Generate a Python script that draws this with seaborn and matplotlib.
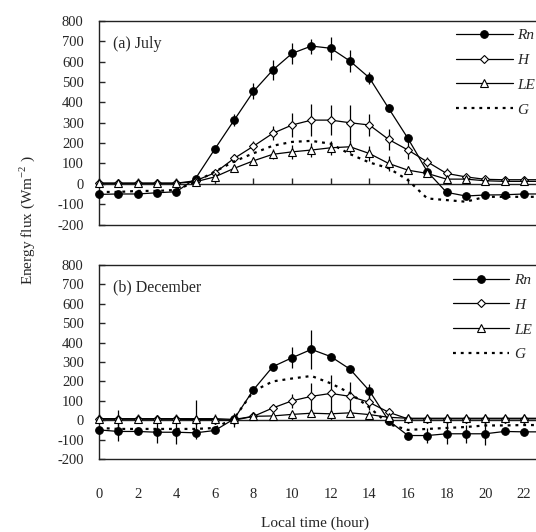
import numpy as np
import pandas as pd
import matplotlib
matplotlib.use("Agg")
import matplotlib.pyplot as plt
import seaborn as sns

# Saatler (0-23)
hours = list(range(24))
hour_ticks = list(range(0, 23, 2))

# (a) Temmuz
rn_jul = [-52, -50, -50, -44, -39, 26, 171, 313, 454, 559, 641, 677, 666, 603, 521, 371, 223, 60, -42, -60, -55, -54, -50, -50]
h_jul = [3, 3, 3, 3, 3, 15, 54, 125, 185, 248, 289, 313, 313, 300, 289, 218, 166, 108, 51, 34, 22, 20, 20, 20]
le_jul = [3, 3, 3, 3, 3, 10, 34, 76, 113, 145, 157, 166, 177, 182, 149, 100, 67, 51, 23, 23, 15, 12, 12, 12]
g_jul = [-40, -40, -35, -35, -30, 10, 60, 110, 150, 187, 206, 211, 197, 146, 105, 77, 18, -72, -80, -88, -64, -64, -64, -64]
rn_jul_err = [5, 5, 5, 5, 5, 10, 15, 29, 39, 49, 50, 37, 56, 56, 30, 20, 15, 10, 10, 10, 10, 5, 5, 5]
h_jul_err = [5, 5, 5, 5, 5, 10, 15, 20, 25, 35, 61, 78, 74, 86, 53, 53, 45, 25, 25, 10, 8, 8, 8, 8]
le_jul_err = [5, 5, 5, 5, 5, 8, 10, 15, 20, 25, 35, 33, 33, 33, 37, 37, 20, 15, 10, 8, 5, 5, 5, 5]

# (b) Aralık
rn_dec = [-50, -58, -58, -62, -62, -65, -53, 7, 157, 276, 322, 365, 328, 263, 152, -2, -79, -79, -70, -70, -70, -58, -60, -60]
h_dec = [5, 5, 5, 5, 5, 3, 3, 0, 20, 63, 100, 123, 138, 123, 92, 41, 7, 7, 7, 7, 7, 7, 7, 7]
le_dec = [8, 8, 8, 8, 8, 8, 8, 4, 20, 22, 30, 36, 33, 38, 29, 15, 10, 10, 10, 10, 10, 10, 10, 10]
g_dec = [-40, -45, -45, -45, -45, -45, -40, 10, 150, 200, 215, 228, 190, 140, 66, -20, -50, -45, -40, -35, -27, -27, -25, -25]
rn_dec_err = [10, 50, 15, 55, 60, 20, 10, 15, 15, 15, 55, 100, 20, 15, 35, 15, 15, 40, 55, 45, 60, 15, 15, 15]
h_dec_err = [10, 50, 10, 10, 10, 100, 10, 35, 15, 20, 35, 68, 94, 72, 40, 20, 15, 15, 15, 15, 15, 15, 15, 15]
le_dec_err = [5, 5, 5, 5, 5, 5, 5, 10, 10, 10, 15, 15, 15, 15, 10, 10, 10, 10, 10, 10, 10, 10, 10, 10]

sns.set_style("ticks")
serif = ["Liberation Serif", "DejaVu Serif"]
plt.rcParams["font.family"] = serif
plt.rcParams["mathtext.fontset"] = "custom"
plt.rcParams["mathtext.rm"] = "Liberation Serif"
plt.rcParams["axes.unicode_minus"] = False

fig = plt.figure(figsize=(5.36, 5.32), dpi=100)
ax_top = fig.add_axes([0.1847, 0.578, 0.843, 0.3825])
ax_bot = fig.add_axes([0.1847, 0.1372, 0.843, 0.3647])


def panel(ax, rn, h, le, g, rn_e, h_e, le_e, title, leg_xy, show_x):
    # hata çubukları
    for vals, errs in [(rn, rn_e), (h, h_e), (le, le_e)]:
        ax.errorbar(hours, vals, yerr=errs, fmt="none", ecolor="black",
                    elinewidth=0.9, capsize=0, zorder=1)
    common = dict(ax=ax, color="black", linewidth=0.9, clip_on=False)
    sns.lineplot(x=hours, y=rn, marker="o", markersize=5.5, markerfacecolor="black",
                 markeredgecolor="black", label="Rn", zorder=3, **common)
    sns.lineplot(x=hours, y=h, marker="D", markersize=4.5, markerfacecolor="white",
                 markeredgecolor="black", markeredgewidth=0.8, label="H", zorder=4, **common)
    sns.lineplot(x=hours, y=le, marker="^", markersize=6, markerfacecolor="white",
                 markeredgecolor="black", markeredgewidth=0.8, label="LE", zorder=5, **common)
    sns.lineplot(x=hours, y=g, linestyle=(0, (1.3, 2.2)), label="G", zorder=6,
                 ax=ax, color="black", linewidth=1.6)

    ax.set_xlim(0, 23.4)
    ax.set_ylim(-200, 800)
    ax.set_yticks(range(-200, 801, 100))
    ax.set_xticks(hour_ticks)
    ax.set_xlabel("")
    ax.set_ylabel("")

    # sıfır çizgisi eksen olarak
    ax.spines["bottom"].set_position(("data", 0))
    for s in ["top", "right", "left", "bottom"]:
        ax.spines[s].set_linewidth(1.0)
        ax.spines[s].set_color("#222222")
    ax.tick_params(axis="x", direction="in", length=4, width=1.0, labelbottom=False)
    ax.tick_params(axis="y", direction="in", length=4, width=1.0, pad=11, labelsize=10.5)

    sec = ax.secondary_xaxis("bottom")
    sec.set_xticks(hour_ticks)
    sec.spines["bottom"].set_linewidth(1.0)
    sec.spines["bottom"].set_color("#222222")
    sec.tick_params(length=0, pad=21, labelsize=10.5, labelbottom=show_x)

    ax.text(0.03, 0.885, title, transform=ax.transAxes, fontsize=11.5, va="center")

    ax.legend(loc="upper left", bbox_to_anchor=leg_xy, bbox_transform=fig.transFigure,
              frameon=False, handlelength=3.7, handletextpad=0.3, labelspacing=0.72,
              borderpad=0, borderaxespad=0,
              prop={"family": serif, "style": "italic", "size": 11})


panel(ax_top, rn_jul, h_jul, le_jul, g_jul, rn_jul_err, h_jul_err, le_jul_err,
      "(a) July", (0.851, 0.946), False)
panel(ax_bot, rn_dec, h_dec, le_dec, g_dec, rn_dec_err, h_dec_err, le_dec_err,
      "(b) December", (0.845, 0.486), True)

fig.text(0.05, 0.586, "Energy flux (Wm$^{-2}$ )", rotation=90, ha="center", va="center",
         fontsize=11)
fig.text(0.588, 0.017, "Local time (hour)", ha="center", va="center", fontsize=11)

fig.savefig("out.png", dpi=100)
